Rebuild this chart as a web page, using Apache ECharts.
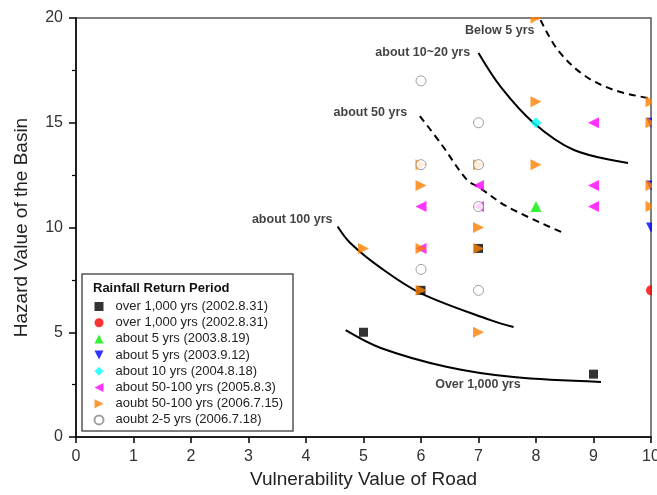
<!DOCTYPE html>
<html>
<head>
<meta charset="utf-8">
<script src="https://cdn.jsdelivr.net/npm/echarts@6/dist/echarts.min.js"></script>
<style>
    html, body { margin: 0; padding: 0; background: #fff; }
    #chart { width: 657px; height: 495px; }
</style>
</head>
<body>
<div id="chart"></div>
<script>
    // observed events, [road vulnerability, basin hazard]
    var blackSquare = [[5, 5], [9, 3], [7, 9], [6, 7]];
    var redCircle = [[10, 7]];
    var greenUp = [[8, 11]];
    var blueDown = [[10, 15], [10, 12], [10, 10]];
    var cyanDiamond = [[8, 15]];
    var magentaLeft = [[9, 15], [9, 12], [9, 11], [7, 12], [6, 11], [6, 9], [7, 11]];
    var orangeRight = [[8, 20], [8, 16], [8, 13], [6, 12], [7, 10], [7, 9], [6, 9], [5, 9], [6, 7], [7, 5],
        [10, 16], [10, 15], [10, 12], [10, 11], [6, 13], [7, 13]];
    var openCircle = [[6, 17], [7, 15], [6, 13], [7, 13], [7, 11], [6, 8], [7, 7]];

    var legendNames = [
        'over 1,000 yrs (2002.8.31)',
        'over 1,000 yrs (2002.8.31)\u200b',
        'about 5 yrs (2003.8.19)',
        'about 5 yrs (2003.9.12)',
        'about 10 yrs (2004.8.18)',
        'about 50-100 yrs (2005.8.3)',
        'aoubt 50-100 yrs (2006.7.15)',
        'aoubt 2-5 yrs (2006.7.18)'
    ];

    // return period curves
    var curveOver1000 = [[4.69, 5.1], [5.3, 4.25], [6.46, 3.34], [7.61, 2.86], [9.13, 2.63]];
    var curve100 = [[4.55, 10.05], [4.77, 9.26], [5.3, 8.07], [5.99, 6.87], [7.21, 5.58], [7.61, 5.25]];
    var curve50 = [[5.98, 15.32], [6.34, 14.03], [6.8, 12.27], [7.0, 11.93], [7.51, 10.98], [8.48, 9.74]];
    var curve1020 = [[7.0, 18.33], [7.39, 16.7], [7.96, 14.99], [8.66, 13.7], [9.6, 13.08]];
    var curveBelow5 = [[8.08, 19.9], [8.38, 18.47], [8.83, 17.28], [9.36, 16.56], [9.95, 16.18]];

    var curveLabels = [
        { name: 'Below 5 yrs', value: [7.37, 19.38] },
        { name: 'about 10~20 yrs', value: [6.03, 18.33] },
        { name: 'about 50 yrs', value: [5.12, 15.47] },
        { name: 'about 100 yrs', value: [3.76, 10.36] },
        { name: 'Over 1,000 yrs', value: [6.99, 2.48] }
    ];

    var font = '"Liberation Sans", Arial, sans-serif';
    var downTri = 'path://M0,0L10,0L5,10Z';
    var leftTri = 'path://M10,0L10,10L0,5Z';
    var rightTri = 'path://M0,0L10,5L0,10Z';

    function pts(name, data, symbol, color, size, extra) {
        var s = {
            name: name,
            type: 'scatter',
            data: data,
            symbol: symbol,
            symbolSize: size || 10,
            itemStyle: { color: color },
            clip: false,
            z: 3
        };
        if (extra) {
            for (var k in extra) s[k] = extra[k];
        }
        return s;
    }

    function curve(data, dashed) {
        return {
            type: 'line',
            data: data,
            smooth: 0.35,
            showSymbol: false,
            silent: true,
            z: 2,
            lineStyle: { color: '#000', width: 2, type: dashed ? [7, 5] : 'solid' }
        };
    }

    var chart = echarts.init(document.getElementById('chart'));

    var series = [
        curve(curveOver1000, false),
        curve(curve100, false),
        curve(curve50, true),
        curve(curve1020, false),
        curve(curveBelow5, true),
        pts(legendNames[0], blackSquare, 'rect', '#000', 9),
        pts(legendNames[1], redCircle, 'circle', '#ff0000', 10),
        pts(legendNames[2], greenUp, 'triangle', '#00ee00', 11),
        pts(legendNames[3], blueDown, downTri, '#0000ff', 10),
        pts(legendNames[4], cyanDiamond, 'diamond', '#00ffff', 11),
        pts(legendNames[5], magentaLeft, leftTri, '#ff00ff', 11),
        pts(legendNames[6], orangeRight, rightTri, '#ff8000', 11),
        pts(legendNames[7], openCircle, 'circle', '#fff', 10, {
            itemStyle: { color: '#fff', borderColor: '#888', borderWidth: 1 }
        }),
        {
            type: 'scatter',
            data: curveLabels,
            symbolSize: 0,
            silent: true,
            z: 4,
            label: {
                show: true,
                position: 'inside',
                formatter: '{b}',
                color: '#111',
                fontSize: 12.5,
                fontWeight: 'bold',
                fontFamily: font
            }
        }
    ];

    var options = {
        backgroundColor: '#fff',
        animation: false,
        grid: {
            left: 76,
            right: 6,
            top: 18,
            bottom: 58,
            outerBoundsMode: 'none',
            show: true,
            borderColor: '#555',
            borderWidth: 1.5
        },
        legend: {
            orient: 'vertical',
            left: 93.5,
            top: 300,
            padding: 0,
            itemWidth: 9,
            itemHeight: 9,
            itemGap: 3.2,
            data: legendNames,
            selectedMode: false,
            textStyle: {
                fontFamily: font,
                fontSize: 13,
                lineHeight: 13,
                color: '#222',
                padding: [0, 0, 0, 7]
            }
        },
        xAxis: {
            type: 'value',
            min: 0,
            max: 10,
            interval: 1,
            name: 'Vulnerability Value of Road',
            nameLocation: 'middle',
            nameGap: 31,
            nameTextStyle: { fontFamily: font, fontSize: 19, color: '#222' },
            axisLine: { lineStyle: { color: '#000', width: 1.5 } },
            axisTick: { inside: false, length: 6, lineStyle: { color: '#000', width: 1.5 } },
            axisLabel: { margin: 12, fontFamily: font, fontSize: 16, color: '#333' },
            splitLine: { show: false }
        },
        yAxis: {
            type: 'value',
            min: 0,
            max: 20,
            interval: 5,
            name: 'Hazard Value of the Basin',
            nameLocation: 'middle',
            nameGap: 45,
            nameTextStyle: { fontFamily: font, fontSize: 19, color: '#222' },
            axisLine: { lineStyle: { color: '#000', width: 1.5 } },
            axisTick: { inside: false, length: 7, lineStyle: { color: '#000', width: 1.5 } },
            minorTick: { show: true, splitNumber: 2, length: 4, lineStyle: { color: '#000', width: 1.2 } },
            axisLabel: { margin: 13, fontFamily: font, fontSize: 16, color: '#333' },
            splitLine: { show: false }
        },
        graphic: [
            {
                type: 'rect',
                z: 1,
                shape: { x: 82, y: 274, width: 211, height: 157 },
                style: { fill: '#fff', stroke: '#555', lineWidth: 1.5 }
            },
            {
                type: 'text',
                z: 5,
                left: 93,
                top: 282,
                style: { text: 'Rainfall Return Period', font: 'bold 13px ' + font, fill: '#111' }
            },
            // mask marker halves that fall outside the frame
            { type: 'rect', z: 100, shape: { x: 652, y: 0, width: 10, height: 437 }, style: { fill: '#fff' } },
            { type: 'rect', z: 100, shape: { x: 77, y: 0, width: 580, height: 17 }, style: { fill: '#fff' } }
        ],
        series: series
    };
    chart.setOption(options);
</script>
</body>
</html>
